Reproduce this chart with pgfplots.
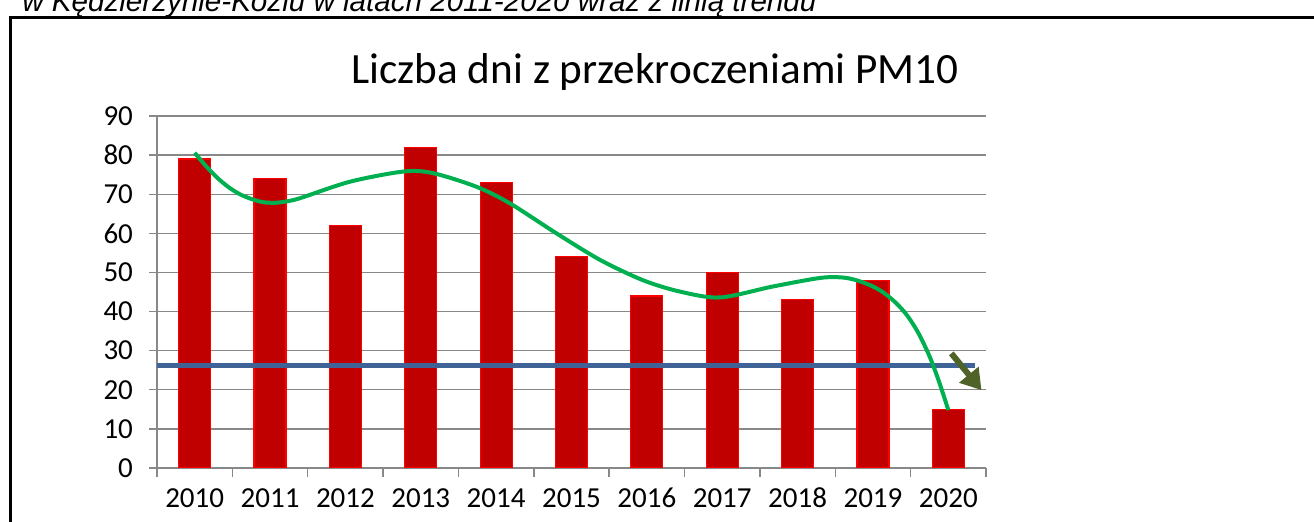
\documentclass[border=0pt]{standalone}
\usepackage{pgfplots}
\pgfplotsset{compat=1.18}
\usepackage{fontspec}
\setmainfont{Carlito}
\newfontfamily\headfont{Liberation Sans}
\usetikzlibrary{arrows.meta}

\definecolor{barred}{HTML}{C00000}
\definecolor{gridgray}{HTML}{888888}
\definecolor{limitblue}{HTML}{3F6397}
\definecolor{trendgreen}{HTML}{00B050}
\definecolor{arrowgreen}{HTML}{4F6228}

\begin{document}
\begin{tikzpicture}[x=1pt,y=1pt]
\useasboundingbox (0,0) rectangle (657,261);
\clip (0,0) rectangle (657,261);
% frame and cut-off caption above it
\draw[line width=1.5pt] (5.2,-10) -- (5.2,252) -- (680,252);
\node[anchor=base west, inner sep=0, font=\headfont\itshape\fontsize{14.8}{17}\selectfont]
  at (11,255) {w Kędzierzynie-Koźlu w latach 2011-2020 wraz z linią trendu};

\begin{axis}[
  at={(78.5pt,27pt)}, anchor=south west,
  scale only axis, width=414.5pt, height=176pt,
  xmin=-0.5, xmax=10.5, ymin=0, ymax=90,
  axis x line*=bottom, axis y line*=left,
  axis line style={gridgray, line width=0.7pt},
  xtick={0,...,10},
  xticklabels={2010,2011,2012,2013,2014,2015,2016,2017,2018,2019,2020},
  minor xtick={-0.5,0.5,...,10.5},
  every major x tick/.append style={draw=none},
  ytick={0,10,...,90},
  tick align=outside,
  major tick length=4pt, minor tick length=4.5pt,
  tick style={gridgray, line width=0.7pt},
  ymajorgrids=true,
  grid style={gridgray, line width=0.7pt},
  ticklabel style={font=\fontsize{14.5}{17}\selectfont},
  xticklabel style={text height=10pt, text depth=0pt, yshift=-2pt},
  yticklabel style={xshift=-4.5pt},
  /pgf/number format/assume math mode=true,
  title={Liczba dni z przekroczeniami PM10},
  title style={at={(0.6007,1)}, anchor=base, yshift=10.5pt, inner sep=0,
    font=\fontsize{21.6}{26}\selectfont},
  ]
  % days above the daily limit
  \addplot[ybar, bar width=16pt, fill=barred, draw=red, line width=0.6pt] coordinates {
    (0,79) (1,74) (2,62) (3,82) (4,73) (5,54)
    (6,44) (7,50) (8,43) (9,48) (10,15)
  };
  % allowed number of days
  \addplot[limitblue, line width=2.5pt] coordinates {(-0.5,26.3) (10.36,26.3)};
  % trend line
  \addplot[trendgreen, line width=2pt, smooth] coordinates {
    (0,80.6) (0.15,77.2) (0.3,74.2) (0.45,71.8) (0.6,70.0) (0.75,68.8)
    (0.9,68.0) (1.05,67.8) (1.2,68.1) (1.4,69.0) (2.06,73.2)
    (2.77,75.8) (3.16,75.4) (3.74,71.9) (4.18,67.7) (4.8,60.0) (5.38,53.2)
    (5.95,48.0) (6.44,45.1) (6.97,43.6) (7.67,46.4) (8.3,48.6) (8.6,48.7)
    (8.8,47.9) (9.0,46.4) (9.15,44.7) (9.3,42.3) (9.45,39.1) (9.6,34.6)
    (9.75,28.6) (9.88,21.9) (10,14.8)
  };
  % falling arrow
  \addplot[arrowgreen, line width=3pt, -{Triangle[width=12pt,length=10pt]}]
    coordinates {(10.04,29.3) (10.44,19.9)};
\end{axis}
\end{tikzpicture}
\end{document}
